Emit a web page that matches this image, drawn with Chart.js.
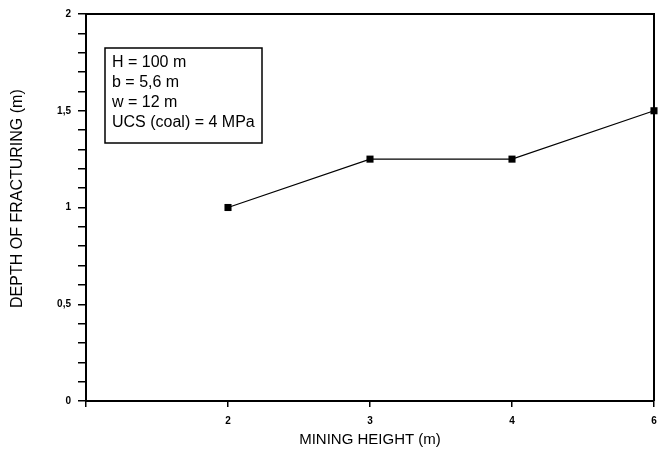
<!DOCTYPE html>
<html>
<head>
<meta charset="utf-8">
<script src="https://cdn.jsdelivr.net/npm/chart.js@4"></script>
<style>
  html, body { margin: 0; padding: 0; background: #fff; }
  #wrap { width: 659px; height: 453px; }
</style>
</head>
<body>
<div id="wrap"><canvas id="c" width="659" height="453"></canvas></div>
<script>
// Data
const categories = ['', '2', '3', '4', '6'];
const depthValues = [null, 1.0, 1.25, 1.25, 1.5];
const yTickLabels = ['0', '0,5', '1', '1,5', '2'];
const boxLines = ['H = 100 m', 'b = 5,6 m', 'w = 12 m', 'UCS (coal) = 4 MPa'];
const xTitle = 'MINING HEIGHT (m)';
const yTitle = '    DEPTH OF FRACTURING (m)';

const frameAndBox = {
  id: 'frameAndBox',
  afterDraw(chart) {
    const ctx = chart.ctx;
    const a = chart.chartArea;
    ctx.save();
    ctx.strokeStyle = '#000';
    ctx.lineWidth = 2;
    ctx.beginPath();
    ctx.moveTo(a.left, a.top);
    ctx.lineTo(a.right, a.top);
    ctx.lineTo(a.right, a.bottom);
    ctx.stroke();
    // annotation box
    const bx = a.left + 19, by = a.top + 34, bw = 157, bh = 95;
    ctx.lineWidth = 1.5;
    ctx.strokeRect(bx, by, bw, bh);
    ctx.fillStyle = '#000';
    ctx.font = '16px "Liberation Sans", Arial, sans-serif';
    ctx.textBaseline = 'middle';
    ctx.textAlign = 'left';
    boxLines.forEach((t, i) => ctx.fillText(t, bx + 7, by + 15 + i * 19.7));
    ctx.restore();
  }
};

new Chart(document.getElementById('c'), {
  type: 'line',
  data: {
    labels: categories,
    datasets: [{
      data: depthValues,
      borderColor: '#000',
      borderWidth: 1.2,
      backgroundColor: '#000',
      pointStyle: 'rect',
      pointRadius: 5,
      pointBorderWidth: 0,
      pointBackgroundColor: '#000',
      spanGaps: false,
      clip: false,
      tension: 0
    }]
  },
  options: {
    responsive: false,
    animation: false,
    devicePixelRatio: 1,
    layout: { padding: { top: 14, right: 4, left: 0, bottom: 0 } },
    plugins: { legend: { display: false }, tooltip: { enabled: false } },
    scales: {
      x: {
        type: 'category',
        offset: false,
        border: { display: true, color: '#000', width: 2 },
        grid: { display: true, drawOnChartArea: false, drawTicks: true, tickLength: 6, color: '#000', lineWidth: 1.5 },
        ticks: {
          color: '#000',
          font: { family: '"Liberation Sans", Arial, sans-serif', size: 10, weight: 'bold' },
          padding: 8,
          maxRotation: 0,
          autoSkip: false
        },
        title: {
          display: true,
          text: xTitle,
          color: '#000',
          font: { family: '"Liberation Sans", Arial, sans-serif', size: 15 },
          padding: { top: 0, bottom: 4 }
        },
        afterFit(s) { s.height = 52; s.paddingLeft = 0; s.paddingRight = 0; }
      },
      y: {
        type: 'linear',
        min: 0,
        max: 2,
        border: { display: true, color: '#000', width: 2 },
        grid: { display: true, drawOnChartArea: false, drawTicks: true, tickLength: 8, color: '#000', lineWidth: 1.5 },
        ticks: {
          stepSize: 0.1,
          autoSkip: false,
          color: '#000',
          padding: 7,
          font: { family: '"Liberation Sans", Arial, sans-serif', size: 10, weight: 'bold' },
          callback(v) {
            const k = v * 2;
            if (Math.abs(k - Math.round(k)) < 1e-6) return yTickLabels[Math.round(k)];
            return '';
          }
        },
        title: {
          display: true,
          text: yTitle,
          color: '#000',
          font: { family: '"Liberation Sans", Arial, sans-serif', size: 16 },
          padding: { top: 8, bottom: 0 }
        },
        afterFit(s) { s.width = 86; s.paddingTop = 0; s.paddingBottom = 0; }
      }
    }
  },
  plugins: [frameAndBox]
});
</script>
</body>
</html>
